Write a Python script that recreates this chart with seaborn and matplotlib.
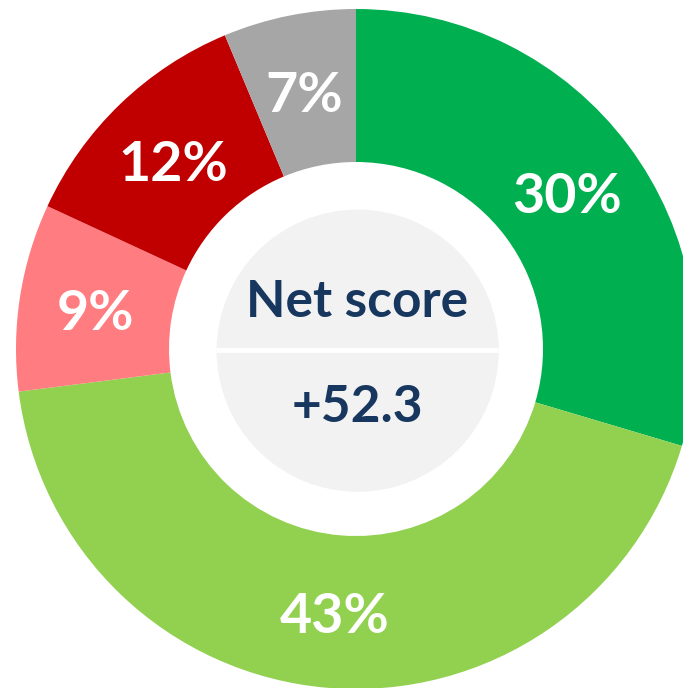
import seaborn as sns
from matplotlib import pyplot as plt
from matplotlib.patches import Circle
import numpy as np

# donut slices, clockwise from 12 o'clock
categories = ["Strong positive", "Positive", "Slightly negative", "Negative", "Neutral"]
shares = [29.6, 43.4, 8.9, 11.8, 6.3]
share_labels = ["30%", "43%", "9%", "12%", "7%"]
slice_colors = ["#00B050", "#92D050", "#FF7C80", "#C00000", "#A6A6A6"]
center_title = "Net score"
center_value = "+52.3"

sns.set_theme(style="white")
plt.rcParams["font.family"] = ["Lato", "DejaVu Sans"]

fig = plt.figure(figsize=(6.83, 6.88), dpi=100)
ax = fig.add_axes([0, 0, 1, 1])

wedges, _ = ax.pie(shares, colors=sns.color_palette(slice_colors), startangle=90,
                   counterclock=False, radius=1.0, normalize=True,
                   wedgeprops=dict(width=0.45, linewidth=0))

# percentage labels inside the ring
for w, lab in zip(wedges, share_labels):
    ang = np.deg2rad((w.theta1 + w.theta2) / 2)
    r = 0.775
    ax.text(r * np.cos(ang), r * np.sin(ang) - 0.016, lab, ha="center", va="center",
            fontsize=40, fontweight="bold", color="white")

# grey disc in the middle with a white divider
disc = Circle((0.005, -0.005), 0.415, facecolor="#F2F2F2", edgecolor="none")
ax.add_patch(disc)
line, = ax.plot([-0.42, 0.42], [-0.003, -0.003], color="white", lw=3.5,
                solid_capstyle="butt")
line.set_clip_path(disc)

ax.text(0.003, 0.137, center_title, ha="center", va="center",
        fontsize=37, fontweight="bold", color="#17375E")
ax.text(0.005, -0.171, center_value, ha="center", va="center",
        fontsize=37, fontweight="bold", color="#17375E")

ax.set_xlim(-356 / 340, (683 - 356) / 340)
ax.set_ylim(-(688 - 349) / 340, 349 / 340)
ax.set_aspect("auto")
ax.axis("off")

fig.savefig("out.png", dpi=100, facecolor="white")
